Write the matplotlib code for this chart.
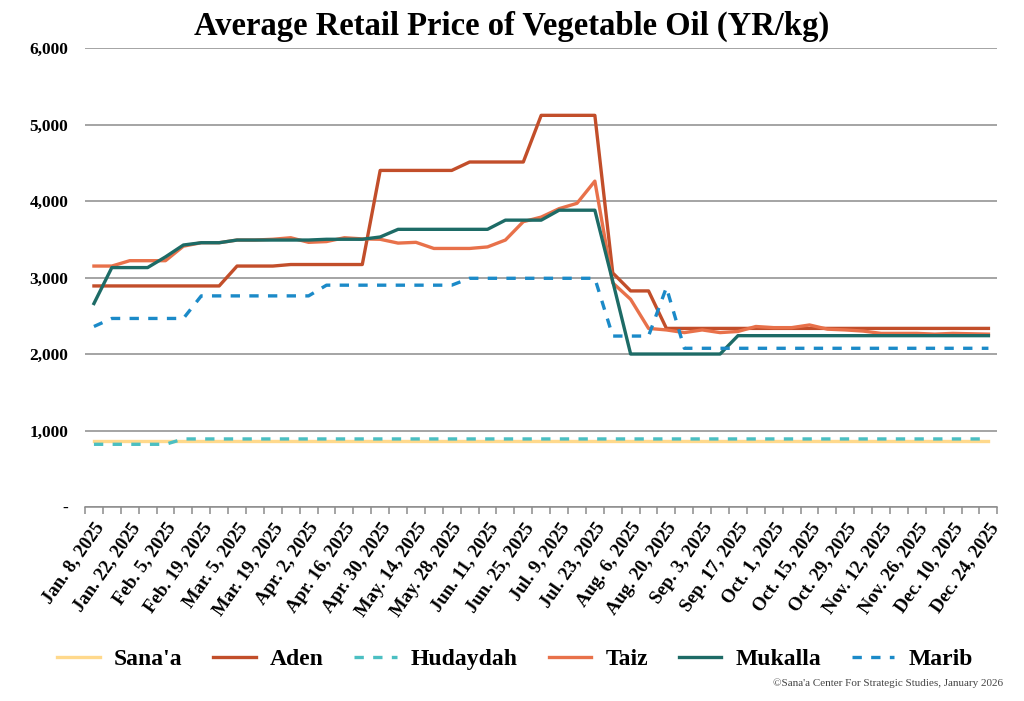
import numpy as np
import matplotlib
matplotlib.use("Agg")
import matplotlib.pyplot as plt

plt.rcParams['font.family'] = ['Liberation Serif', 'DejaVu Serif']

# weekly prices, Jan 8 2025 .. Dec 24 2025 (51 weeks)
sanaa = [860, 860, 860, 860, 860, 860, 860, 860, 860, 860,
         860, 860, 860, 860, 860, 860, 860, 860, 860, 860,
         860, 860, 860, 860, 860, 860, 860, 860, 860, 860,
         860, 860, 860, 860, 860, 860, 860, 860, 860, 860,
         860, 860, 860, 860, 860, 860, 860, 860, 860, 860, 860]
aden = [2890, 2890, 2890, 2890, 2890, 2890, 2890, 2890, 3150, 3150,
        3150, 3170, 3170, 3170, 3170, 3170, 4400, 4400, 4400, 4400,
        4400, 4510, 4510, 4510, 4510, 5120, 5120, 5120, 5120, 3060,
        2825, 2825, 2335, 2335, 2335, 2335, 2335, 2335, 2335, 2335,
        2335, 2335, 2335, 2335, 2335, 2335, 2335, 2335, 2335, 2335, 2335]
hudaydah = [820, 820, 820, 820, 820, 890, 890, 890, 890, 890,
            890, 890, 890, 890, 890, 890, 890, 890, 890, 890,
            890, 890, 890, 890, 890, 890, 890, 890, 890, 890,
            890, 890, 890, 890, 890, 890, 890, 890, 890, 890,
            890, 890, 890, 890, 890, 890, 890, 890, 890, 890, 890]
taiz = [3150, 3150, 3220, 3220, 3220, 3410, 3455, 3455, 3490, 3490,
        3500, 3520, 3460, 3470, 3520, 3505, 3500, 3450, 3460, 3380,
        3380, 3380, 3400, 3490, 3730, 3790, 3900, 3970, 4260, 2930,
        2715, 2335, 2315, 2280, 2315, 2280, 2295, 2360, 2345, 2345,
        2380, 2325, 2315, 2300, 2270, 2270, 2270, 2260, 2270, 2265, 2260]
mukalla = [2660, 3130, 3130, 3130, 3270, 3425, 3455, 3455, 3490, 3490,
           3490, 3490, 3490, 3500, 3500, 3500, 3530, 3630, 3630, 3630,
           3630, 3630, 3630, 3750, 3750, 3750, 3880, 3880, 3880, 2950,
           2000, 2000, 2000, 2000, 2000, 2000, 2240, 2240, 2240, 2240,
           2240, 2240, 2240, 2240, 2240, 2240, 2240, 2240, 2240, 2240, 2240]
marib = [2360, 2465, 2465, 2465, 2465, 2465, 2760, 2760, 2760, 2760,
         2760, 2760, 2760, 2900, 2900, 2900, 2900, 2900, 2900, 2900,
         2900, 2990, 2990, 2990, 2990, 2990, 2990, 2990, 2990, 2235,
         2235, 2235, 2870, 2075, 2075, 2075, 2075, 2075, 2075, 2075,
         2075, 2075, 2075, 2075, 2075, 2075, 2075, 2075, 2075, 2075, 2075]

tick_labels = ["Jan. 8, 2025", "Jan. 22, 2025", "Feb. 5, 2025", "Feb. 19, 2025",
               "Mar. 5, 2025", "Mar. 19, 2025", "Apr. 2, 2025", "Apr. 16, 2025",
               "Apr. 30, 2025", "May. 14, 2025", "May. 28, 2025", "Jun. 11, 2025",
               "Jun. 25, 2025", "Jul. 9, 2025", "Jul. 23, 2025", "Aug. 6, 2025",
               "Aug. 20, 2025", "Sep. 3, 2025", "Sep. 17, 2025", "Oct. 1, 2025",
               "Oct. 15, 2025", "Oct. 29, 2025", "Nov. 12, 2025", "Nov. 26, 2025",
               "Dec. 10, 2025", "Dec. 24, 2025"]

x = np.arange(len(aden))

fig = plt.figure(figsize=(10.24, 7.01), dpi=100)
ax = fig.add_axes([0.083, 0.2767, 0.891, 0.6548])

dash = (0, (2.8, 2.8))
ax.plot(x, sanaa, color='#FFD98C', lw=2.4, label="Sana'a", zorder=3)
ax.plot(x, aden, color='#C24E2A', lw=2.4, label='Aden', zorder=4)
ax.plot(x, hudaydah, color='#4BBFC2', lw=2.4, ls=dash, label='Hudaydah', zorder=3)
ax.plot(x, taiz, color='#E8714A', lw=2.4, label='Taiz', zorder=4)
ax.plot(x, mukalla, color='#1D6B66', lw=2.4, label='Mukalla', zorder=5)
ax.plot(x, marib, color='#1B8AC8', lw=2.4, ls=dash, label='Marib', zorder=6)

ax.set_xlim(-0.5, len(x) - 0.5)
ax.set_ylim(0, 6000)
ax.set_yticks(np.arange(0, 6001, 1000))
ax.set_yticklabels(['-', '1,000', '2,000', '3,000', '4,000', '5,000', '6,000'],
                   fontsize=12.5, fontweight='bold')
ax.yaxis.grid(True, color='#8c8c8c', lw=1.1)
ax.set_axisbelow(True)
ax.tick_params(axis='y', length=0, pad=12)

ax.set_xticks(x[::2])
ax.set_xticklabels(tick_labels, rotation=55, ha='right', rotation_mode='anchor',
                   fontsize=13.5, fontweight='bold')
ax.set_xticks(np.arange(-0.5, len(x), 1), minor=True)
ax.tick_params(axis='x', which='major', length=0, pad=9)
ax.tick_params(axis='x', which='minor', length=5, color='#8c8c8c', width=1.1)

for s in ['top', 'right', 'left']:
    ax.spines[s].set_visible(False)
ax.spines['bottom'].set_color('#8c8c8c')
ax.spines['bottom'].set_linewidth(1.1)

fig.suptitle('Average Retail Price of Vegetable Oil (YR/kg)', y=0.984,
             fontsize=23.5, fontweight='bold')

fig.legend(loc='center', bbox_to_anchor=(0.503, 0.059), ncol=6, frameon=False,
           prop={'size': 17, 'weight': 'bold'}, handlelength=1.8,
           columnspacing=1.3, handletextpad=0.6)

fig.text(0.98, 0.018, "\u00a9Sana'a Center For Strategic Studies, January 2026",
         ha='right', va='bottom', fontsize=8, color='#444444')

fig.savefig('out.png', dpi=100)
